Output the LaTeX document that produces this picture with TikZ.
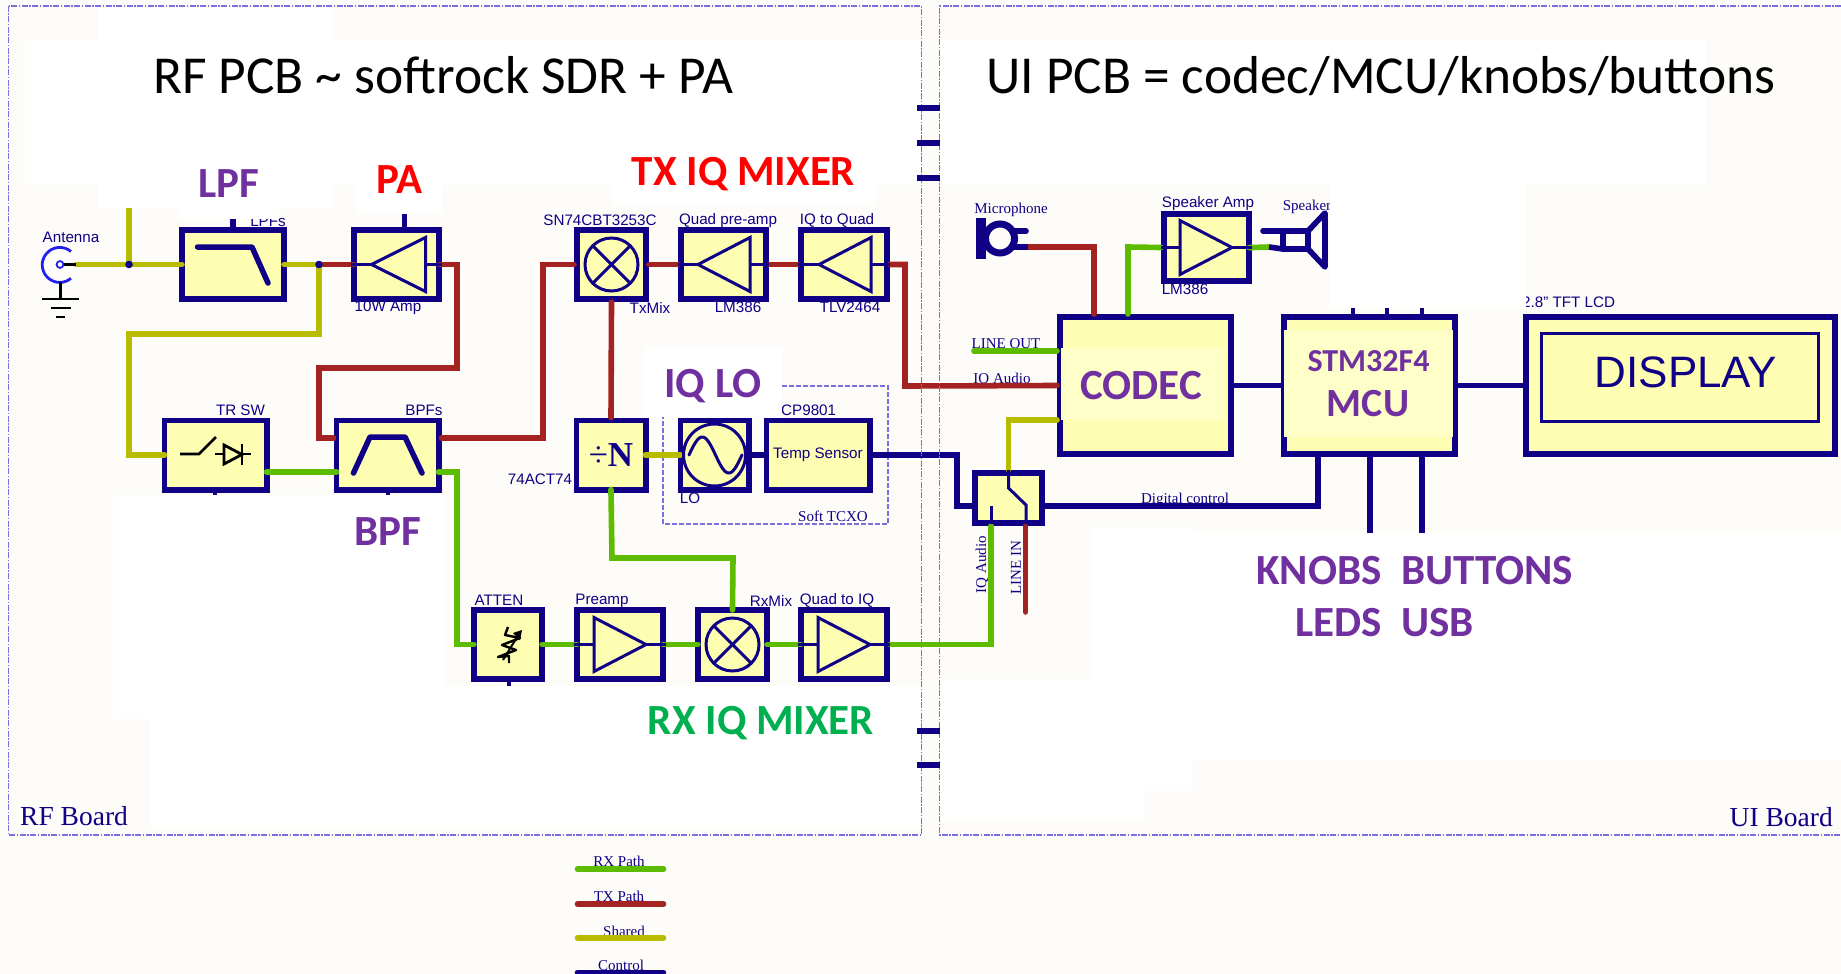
\documentclass[tikz,border=0pt]{standalone}
\usepackage{fontspec}
\usepackage{xcolor}
\setmainfont{Liberation Serif}
\setsansfont{Liberation Sans}
\newfontfamily\calfont{Carlito}
\usetikzlibrary{positioning}
\definecolor{paper}{HTML}{FDFCF8}
\definecolor{navy}{HTML}{0F0085}
\definecolor{boxfill}{HTML}{FEFEB2}
\definecolor{boxpale}{HTML}{FEFEC8}
\definecolor{rxgreen}{HTML}{5DBB00}
\definecolor{txred}{HTML}{A52222}
\definecolor{sharedcol}{HTML}{B8BC00}
\definecolor{boardcol}{HTML}{7B6FE0}
\definecolor{headpurple}{HTML}{7030A0}
\definecolor{headgreen}{HTML}{00B050}
\definecolor{antblue}{HTML}{2020F0}
\newcommand{\ampr}[3]{
  \draw[symline] (#1.west) -- ([xshift=#2pt]#1.center) ([xshift=#3pt]#1.center) -- (#1.east);
  \draw[symline] ([xshift=#2pt,yshift=27pt]#1.center) -- ([xshift=#2pt,yshift=-27pt]#1.center) -- ([xshift=#3pt]#1.center) -- cycle;
}
\newcommand{\ampl}[3]{
  \draw[symline] (#1.west) -- ([xshift=#2pt]#1.center) ([xshift=#3pt]#1.center) -- (#1.east);
  \draw[symline] ([xshift=#3pt,yshift=27pt]#1.center) -- ([xshift=#3pt,yshift=-27pt]#1.center) -- ([xshift=#2pt]#1.center) -- cycle;
}
\newcommand{\mixsym}[1]{
  \draw[symline] (#1.center) circle[radius=26.5pt];
  \draw[symline] ([xshift=-18.7pt,yshift=18.7pt]#1.center) -- ([xshift=18.7pt,yshift=-18.7pt]#1.center);
  \draw[symline] ([xshift=-18.7pt,yshift=-18.7pt]#1.center) -- ([xshift=18.7pt,yshift=18.7pt]#1.center);
}
\begin{document}
\begin{tikzpicture}[
  x=1pt,y=-1pt,
  every node/.style={inner sep=0pt},
  block/.style={draw=navy,fill=boxfill,line width=5.8pt,minimum height=69.2pt},
  armlbl/.style={font=\sffamily\fontsize{15.2}{17}\selectfont,text=navy,yshift=-1.5pt},
  serlbl/.style={font=\rmfamily\fontsize{15}{17}\selectfont,text=navy,yshift=-1.5pt},
  headlbl/.style={font=\calfont\bfseries\fontsize{43}{47}\selectfont,text=headpurple,yshift=-1.5pt},
  titlelbl/.style={font=\calfont\fontsize{53.4}{58}\selectfont,text=black,anchor=base west},
  boardlbl/.style={font=\rmfamily\fontsize{27.5}{30}\selectfont,text=navy},
  symline/.style={draw=navy,line width=3pt,line join=miter},
  blackline/.style={draw=black,line width=2.8pt},
  wire/.style={line width=5.6pt,line join=miter,line cap=round},
  rxw/.style={wire,draw=rxgreen},
  txw/.style={wire,draw=txred},
  sharedw/.style={wire,draw=sharedcol},
  ctlw/.style={line width=5.6pt,line join=miter,draw=navy},
  into/.style={shorten <=-3pt,shorten >=-3pt},
  patch/.style={fill=white},
  boardline/.style={draw=boardcol,line width=1.3pt,dash pattern=on 6pt off 1.5pt on 1.5pt off 1.5pt}
]
\useasboundingbox (0,0) rectangle (1841,974);
\fill[paper] (0,0) rectangle (1841,974);

\node[armlbl] (antlbl) at (71,236) {Antenna};
\node[armlbl] (lpflbl) at (268,220) {LPFs};
\node[armlbl] (amplbl) at (388,306) {10W Amp};
\node[armlbl] (trlbl) at (240.5,409) {TR SW};
\node[armlbl] (bpflbl) at (424,409) {BPFs};
\node[armlbl] (snlbl) at (600,219) {SN74CBT3253C};
\node[armlbl] (qpalbl) at (728,219) {Quad pre-amp};
\node[armlbl] (iqqlbl) at (837,219) {IQ to Quad};
\node[armlbl] (txmixlbl) at (650,306) {TxMix};
\node[armlbl] (lmlbl) at (738,306) {LM386};
\node[armlbl] (tlvlbl) at (850,306) {TLV2464};
\node[armlbl,anchor=west] (cplbl) at (781,409) {CP9801};
\node[armlbl] (actlbl) at (540,478) {74ACT74};
\node[armlbl] (lolbl) at (690,497) {LO};
\node[serlbl] (softlbl) at (833,515) {Soft TCXO};
\node[armlbl] (attlbl) at (499,599) {ATTEN};
\node[armlbl] (prelbl) at (602,599) {Preamp};
\node[armlbl] (rxmixlbl) at (771,599) {RxMix};
\node[armlbl] (q2ilbl) at (837,599) {Quad to IQ};
\node[armlbl] (bfulbl) at (602,691) {BFU97};
\node[armlbl] (sn2lbl) at (738,691) {SN74CBT3253C};
\node[serlbl] (miclbl) at (1011,208) {Microphone};
\node[armlbl] (spalbl) at (1208,202) {Speaker Amp};
\node[armlbl] (lm2lbl) at (1185,288) {LM386};
\node[serlbl] (spklbl) at (1307,205) {Speaker};
\node[serlbl] (outlbl) at (1006,342) {LINE OUT};
\node[serlbl] (iqalbl) at (1002,378) {IQ Audio};
\node[serlbl] (diglbl) at (1185,498) {Digital control};
\node[serlbl,rotate=90] (iqvlbl) at (982,563) {IQ Audio};
\node[serlbl,rotate=90] (linlbl) at (1016,566) {LINE IN};
\node[armlbl,anchor=west] (tftlbl) at (1522,301) {2.8" TFT LCD};

\draw[draw=boardcol,line width=1.2pt,dash pattern=on 5pt off 2pt] (663,386) rectangle (888,524);

\node[block,minimum width=102.2pt] (lpf) at (233,264.5) {};
\node[block,minimum width=85.2pt,right=64pt of lpf] (pa) {};
\node[block,minimum width=69.2pt,right=132pt of pa] (txmix) {};
\node[block,minimum width=85.2pt,right=29pt of txmix] (txpre) {};
\node[block,minimum width=86.2pt,right=29pt of txpre] (iqquad) {};
\node[block,minimum width=102.2pt] (trsw) at (215.5,455) {};
\node[block,minimum width=102.2pt,right=64pt of trsw] (bpfs) {};
\node[block,minimum width=69.2pt,right=132pt of bpfs] (divn) {\textcolor{navy}{\fontsize{35}{38}\selectfont ÷\textbf{N}}};
\node[block,minimum width=68.2pt,right=29pt of divn] (lo) {};
\node[block,minimum width=103.2pt,right=12pt of lo,font=\sffamily\fontsize{15.2}{17}\selectfont,text=navy] (temp) {Temp Sensor};
\node[block,minimum width=68.2pt] (atten) at (508,644.5) {};
\node[block,minimum width=86.2pt,right=29pt of atten] (rxpre) {};
\node[block,minimum width=69.2pt,right=29pt of rxpre] (rxmix) {};
\node[block,minimum width=86.2pt,right=28pt of rxmix] (rxquad) {};
\node[block,minimum width=85.2pt,minimum height=67.2pt] (spkamp) at (1206.5,247.5) {};
\node[block,minimum width=171.2pt,minimum height=137.2pt] (codec) at (1145.5,385.5) {};
\node[block,minimum width=171.2pt,minimum height=137.2pt,right=47pt of codec] (mcu) {};
\node[block,minimum width=309.2pt,minimum height=137.2pt,right=65pt of mcu] (display) {};
\node[block,minimum width=67.2pt,minimum height=50.2pt] (audsw) at (1008.5,498) {};

\coordinate (antfeed) at (76,264.5);
\coordinate (junca) at (129,264.5);
\coordinate (juncb) at (319,264.5);
\coordinate (micfeed) at (1028,247);
\coordinate (spkfeed) at (1269,247);

\draw[sharedw,shorten >=-3pt] (antfeed) -- (lpf.west);
\draw[sharedw] (junca) -- (129,205);
\draw[sharedw,shorten <=-3pt] (lpf.east) -- (juncb);
\draw[sharedw,shorten >=-3pt] (juncb) -- (319,334) -- (129,334) -- (129,455) -- (trsw.west);
\draw[sharedw,into] (divn.east) -- (lo.west);
\draw[sharedw] ([yshift=-34.5pt]codec.west) -- (1008.5,420) -- (audsw.north);

\draw[txw,shorten >=-3pt] (juncb) -- (pa.west);
\draw[txw,shorten <=-3pt] (pa.east) -- (457,264.5) -- (457,368) -- (319,368) -- (319,438) -- ([yshift=17pt]bpfs.west);
\draw[txw] ([yshift=17pt]bpfs.east) -- (543,438) -- (543,264.5) -- (txmix.west);
\draw[txw] (txmix.east) -- (txpre.west);
\draw[txw] (txpre.east) -- (iqquad.west);
\draw[txw] (txmix.south) -- (divn.north);
\draw[txw] (iqquad.east) -- (905,264.5) -- (905,386) -- (codec.west);
\draw[txw] ([xshift=17pt]audsw.south) -- (1025.5,612);
\draw[txw] (micfeed) -- (1094,247) -- ([xshift=-51.5pt]codec.north);

\draw[rxw,into] ([yshift=-17pt]trsw.east) -- ([yshift=-17pt]bpfs.west);
\draw[rxw,into] ([yshift=-17pt]bpfs.east) -- (457,472) -- (457,644.5) -- (atten.west);
\draw[rxw,into] (atten.east) -- (rxpre.west);
\draw[rxw,into] (rxpre.east) -- (rxmix.west);
\draw[rxw,into] (rxmix.east) -- (rxquad.west);
\draw[rxw] (rxquad.east) -- (991,644.5) -- ([xshift=-17.5pt]audsw.south);
\draw[rxw,into] (divn.south) -- (612,558) -- (733,558) -- (rxmix.north);
\draw[rxw] ([xshift=-17.5pt]codec.north) -- (1128,247) -- (spkamp.west);
\draw[rxw,shorten <=-3pt] (spkamp.east) -- (spkfeed);
\draw[rxw] (974,351) -- ([yshift=34.5pt]codec.west);

\draw[ctlw] (lo.east) -- (temp.west);
\draw[ctlw] (temp.east) -- (957,455) -- (957,506) -- ([yshift=-8pt]audsw.west);
\draw[ctlw] ([yshift=-8pt]audsw.east) -- (1318,506) -- ([xshift=-51.5pt]mcu.south);
\draw[ctlw] (codec.east) -- (mcu.west);
\draw[ctlw] (mcu.east) -- (display.west);
\draw[ctlw] ([xshift=0.5pt]mcu.south) -- (1370,533);
\draw[ctlw] ([xshift=52.5pt]mcu.south) -- (1422,533);
\foreach \tx in {1353,1387,1422} \draw[navy,line width=4.5pt] (\tx,314) -- (\tx,305);
\draw[ctlw] (lpf.north) -- (233,212);
\draw[ctlw] ([xshift=8pt]pa.north) -- ++(0,-16);
\draw[navy,line width=4.5pt] (215,492) -- (215,496);
\draw[navy,line width=4.5pt] (388,492) -- (388,496);
\draw[navy,line width=4.5pt] (509,682) -- (509,688);

\fill[navy] (junca) circle[radius=3.8pt];
\fill[navy] (juncb) circle[radius=3.8pt];

\draw[antblue,line width=2.8pt] (71,251.5) arc[start angle=50,end angle=310,radius=17.5pt];
\draw[antblue,line width=1.8pt,fill=white] (60,264.5) circle[radius=3.4pt];
\draw[blackline] (63.5,264.5) -- (antfeed);
\draw[blackline] (60.5,282) -- (60.5,299);
\draw[blackline] (42,299) -- (79,299);
\draw[blackline] (51,308) -- (71,308);
\draw[blackline] (56,317) -- (65,317);

\draw[navy,line width=5.5pt,line cap=round,line join=round] (197.5,247) -- (252,247) -- (268,283);
\draw[navy,line width=5.5pt,line cap=round,line join=round] (353.5,473) -- (370,437) -- (405,437) -- (422,473);
\ampl{pa}{-25}{29}
\ampl{txpre}{-25.5}{26.5}
\ampl{iqquad}{-25}{27}
\ampr{rxpre}{-26}{26}
\ampr{rxquad}{-26}{26}
\ampr{spkamp}{-26.5}{25.5}
\mixsym{txmix}
\mixsym{rxmix}
\draw[symline] (lo.center) circle[radius=31pt];
\draw[navy,line width=3pt,line cap=round] plot[domain=0:360,samples=40] ({689+\x/360*53},{455-18*sin(\x)});
\draw[blackline] (180,454) -- (199,454) -- (216,437);
\draw[blackline] (215,454) -- (251,454);
\draw[blackline,fill=boxfill] (224,445) -- (224,464) -- (242,454.5) -- cycle;
\draw[blackline] (242,444) -- (242,465);
\draw[draw=black,line width=2.4pt,line join=round] (509,663) -- (509,656) -- (498,657) -- (516,650) -- (502,645) -- (520,638) -- (505,635) -- (508,627);
\draw[draw=black,line width=2pt] (503,660) -- (519,634);
\fill[black] (522,630) -- (513,633) -- (520,640) -- cycle;
\draw[symline] (1008.5,470) -- (1008.5,488) -- (1026,505) -- (1026,524);
\draw[symline] (991,506) -- (991,524);

\fill[navy] (976,218) rectangle (986,259);
\draw[navy,line width=7pt,fill=paper] (1000,238.5) circle[radius=14.5pt];
\draw[navy,line width=5.6pt,line cap=round] (1014,231) -- (1026,231);
\draw[navy,line width=5.6pt] (1014,247) -- (micfeed);
\draw[navy,line width=5.6pt,line cap=round] (1263,231) -- (1283,231);
\draw[navy,line width=5.6pt] (spkfeed) -- (1283,249);
\draw[navy,line width=5.6pt,line join=round] (1283,231) rectangle (1308,249);
\draw[navy,line width=5.6pt,line join=round] (1308,231) -- (1325,213) -- (1325,267) -- (1308,249);

\fill[boxpale] (1061,348) rectangle (1223,420);
\fill[boxpale] (1284,330) rectangle (1453,437);
\node[draw=navy,line width=3pt,minimum width=277pt,minimum height=88pt] (panel) at (1679.5,377) {};
\node[font=\sffamily\fontsize{44}{48}\selectfont,text=navy] (displbl) at (1686,372) {DISPLAY};

\fill[patch] (25,40) rectangle (921,185);
\fill[patch] (98,7) rectangle (333,208);
\fill[patch] (179,208) rectangle (279,219);
\fill[patch] (357,185) rectangle (442,214);
\fill[patch] (613,185) rectangle (876,205);
\fill[patch] (645,347) rectangle (782,417);
\fill[patch] (113,495) rectangle (443,719);
\fill[patch] (150,686) rectangle (921,827);
\fill[patch] (939,40) rectangle (1706,185);
\fill[patch] (1330,185) rectangle (1526,308);
\fill[patch] (1093,527) rectangle (1193,679);
\fill[patch] (1193,533) rectangle (1841,760);
\fill[patch] (939,679) rectangle (1145,820);
\fill[patch] (1145,679) rectangle (1193,791);

\draw[boardline] (8.5,6) rectangle (921.7,835);
\draw[boardline] (1841,6) -- (939.5,6) -- (939.5,835) -- (1841,835);
\foreach \ty in {108,143,178,731,765} \draw[navy,line width=5.6pt] (917,\ty) -- (939.5,\ty);

\node[titlelbl] (rftitle) at (153,93) {RF PCB \textasciitilde{} softrock SDR + PA};
\node[titlelbl] (uititle) at (986,93) {UI PCB = codec/MCU/knobs/buttons};
\node[headlbl] (lpfhead) at (229,182) {LPF};
\node[headlbl,text=red] (pahead) at (400,178) {PA};
\node[headlbl,text=red] (txhead) at (743.5,173) {TX IQ MIXER};
\node[headlbl] (lohead) at (713,385) {IQ LO};
\node[headlbl] (bpfhead) at (387.5,530) {BPF};
\node[headlbl,text=headgreen] (rxhead) at (761,721.5) {RX IQ MIXER};
\node[headlbl] (codechead) at (1141,384) {CODEC};
\node[headlbl,font=\calfont\bfseries\fontsize{32}{35}\selectfont] (stmhead) at (1368.5,360) {STM32F4};
\node[headlbl,font=\calfont\bfseries\fontsize{40}{44}\selectfont] (mcuhead) at (1368,402) {MCU};
\node[headlbl,anchor=west] (knobhead) at (1256,569) {KNOBS\ \ BUTTONS};
\node[headlbl,anchor=west] (ledhead) at (1295,621.5) {LEDS\ \ USB};
\node[boardlbl,anchor=west] (rflbl) at (20,816) {RF Board};
\node[boardlbl,anchor=east] (uilbl) at (1833,817) {UI Board};

\node[serlbl] (legrx) at (619,860) {RX Path};
\node[serlbl] (legtx) at (619,895) {TX Path};
\node[serlbl] (legsh) at (624,930) {Shared};
\node[serlbl] (legctl) at (621,964) {Control};
\draw[rxw] (577.5,869) -- (663.5,869);
\draw[txw] (577.5,904) -- (663.5,904);
\draw[sharedw] (577.5,938) -- (663.5,938);
\draw[wire,draw=navy] (577.5,972.5) -- (663.5,972.5);
\end{tikzpicture}
\end{document}
